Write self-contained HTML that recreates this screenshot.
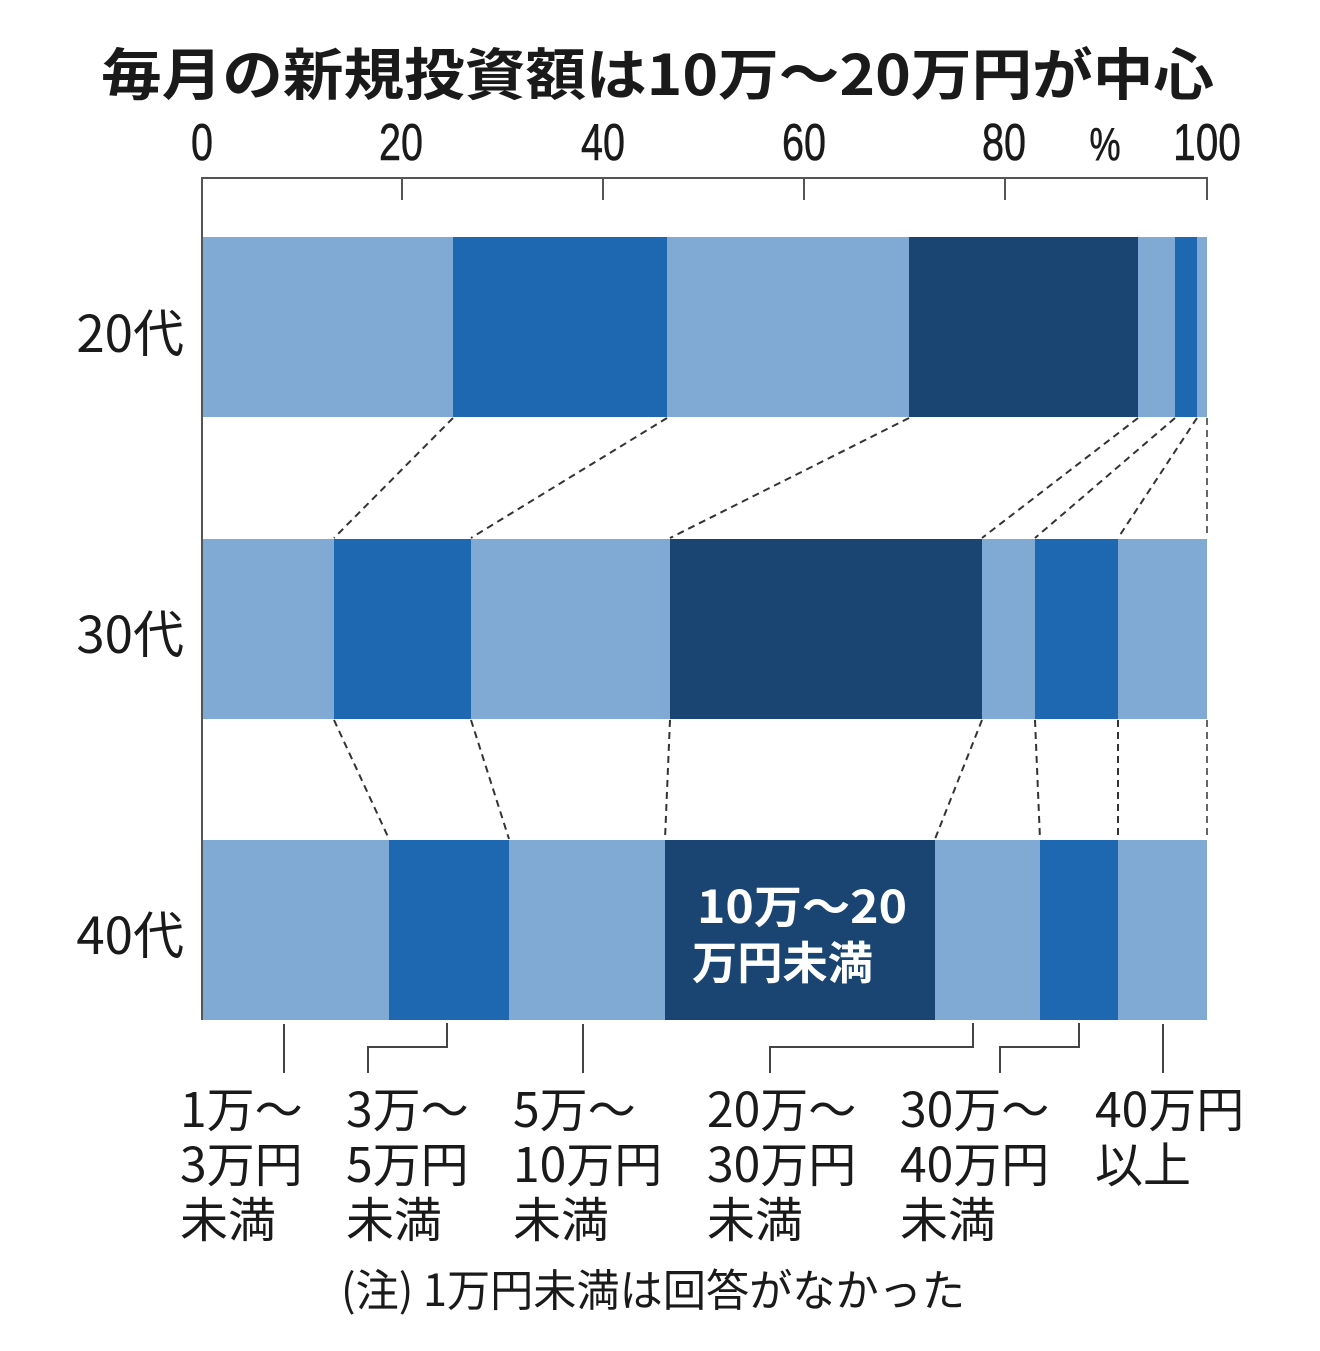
<!DOCTYPE html>
<html>
<head>
<meta charset="utf-8">
<style>
  html, body { margin: 0; padding: 0; background: #ffffff; }
  body { width: 1320px; height: 1351px; overflow: hidden; }
  svg { display: block; }
</style>
</head>
<body>
<svg width="1320" height="1351" viewBox="0 0 1320 1351" xmlns="http://www.w3.org/2000/svg">
  <rect x="0" y="0" width="1320" height="1351" fill="#ffffff"/>

  <!-- Title -->
  <text x="101" y="95" font-family="'Noto Sans CJK JP', sans-serif" font-weight="700" font-size="56" fill="#1a1a1a" textLength="1113" lengthAdjust="spacingAndGlyphs">毎月の新規投資額は10万～20万円が中心</text>

  <!-- Tick labels -->
  <g font-family="'Liberation Sans', sans-serif" font-size="52" fill="#1a1a1a" text-anchor="middle" stroke="#1a1a1a" stroke-width="0.6">
    <text transform="translate(202,160) scale(0.76,1)">0</text>
    <text transform="translate(401,160) scale(0.76,1)">20</text>
    <text transform="translate(603,160) scale(0.76,1)">40</text>
    <text transform="translate(804,160) scale(0.76,1)">60</text>
    <text transform="translate(1004,160) scale(0.76,1)">80</text>
    <text transform="translate(1105,160) scale(0.76,1)" font-size="46">%</text>
    <text transform="translate(1207,160) scale(0.78,1)">100</text>
  </g>

  <!-- Axis -->
  <g stroke="#555" stroke-width="2" fill="none">
    <line x1="202" y1="178" x2="1207" y2="178"/>
    <line x1="202" y1="177" x2="202" y2="1020"/>
    <line x1="402" y1="178" x2="402" y2="200"/>
    <line x1="603" y1="178" x2="603" y2="200"/>
    <line x1="804" y1="178" x2="804" y2="200"/>
    <line x1="1005" y1="178" x2="1005" y2="200"/>
    <line x1="1207" y1="177" x2="1207" y2="200"/>
  </g>

  <!-- Bars -->
  <g>
    <rect x="202" y="237" width="251" height="180" fill="#80aad4"/>
    <rect x="453" y="237" width="214" height="180" fill="#1e67b1"/>
    <rect x="667" y="237" width="242" height="180" fill="#80aad4"/>
    <rect x="909" y="237" width="229" height="180" fill="#1a4471"/>
    <rect x="1138" y="237" width="37" height="180" fill="#80aad4"/>
    <rect x="1175" y="237" width="22" height="180" fill="#1e67b1"/>
    <rect x="1197" y="237" width="10" height="180" fill="#80aad4"/>
  </g>
  <g>
    <rect x="202" y="539" width="132" height="180" fill="#80aad4"/>
    <rect x="334" y="539" width="137" height="180" fill="#1e67b1"/>
    <rect x="471" y="539" width="199" height="180" fill="#80aad4"/>
    <rect x="670" y="539" width="312" height="180" fill="#1a4471"/>
    <rect x="982" y="539" width="53" height="180" fill="#80aad4"/>
    <rect x="1035" y="539" width="83" height="180" fill="#1e67b1"/>
    <rect x="1118" y="539" width="89" height="180" fill="#80aad4"/>
  </g>
  <g>
    <rect x="202" y="840" width="187" height="180" fill="#80aad4"/>
    <rect x="389" y="840" width="120" height="180" fill="#1e67b1"/>
    <rect x="509" y="840" width="156" height="180" fill="#80aad4"/>
    <rect x="665" y="840" width="270" height="180" fill="#1a4471"/>
    <rect x="935" y="840" width="105" height="180" fill="#80aad4"/>
    <rect x="1040" y="840" width="78" height="180" fill="#1e67b1"/>
    <rect x="1118" y="840" width="89" height="180" fill="#80aad4"/>
  </g>
  <line x1="202" y1="237" x2="202" y2="1020" stroke="#555" stroke-width="2"/>

  <!-- Dashed connectors -->
  <g stroke="#333" stroke-width="2" stroke-dasharray="7,5" fill="none">
    <line x1="453" y1="418" x2="334" y2="538"/>
    <line x1="667" y1="418" x2="471" y2="538"/>
    <line x1="909" y1="418" x2="670" y2="538"/>
    <line x1="1138" y1="418" x2="982" y2="538"/>
    <line x1="1175" y1="418" x2="1035" y2="538"/>
    <line x1="1197" y1="418" x2="1118" y2="538"/>
    <line x1="1207" y1="418" x2="1207" y2="538" stroke="#666"/>

    <line x1="334" y1="720" x2="389" y2="839"/>
    <line x1="471" y1="720" x2="509" y2="839"/>
    <line x1="670" y1="720" x2="665" y2="839"/>
    <line x1="982" y1="720" x2="935" y2="839"/>
    <line x1="1035" y1="720" x2="1040" y2="839"/>
    <line x1="1118" y1="720" x2="1118" y2="839"/>
    <line x1="1207" y1="720" x2="1207" y2="839" stroke="#666"/>
  </g>

  <!-- Y labels -->
  <g font-family="'Noto Sans CJK JP', sans-serif" font-size="51" fill="#1a1a1a" text-anchor="end">
    <text x="184" y="352">20代</text>
    <text x="184" y="653">30代</text>
    <text x="184" y="954">40代</text>
  </g>

  <!-- Label inside bar -->
  <g font-family="'Noto Sans CJK JP', sans-serif" font-weight="700" font-size="45" fill="#ffffff">
    <text x="697" y="923" textLength="210" lengthAdjust="spacingAndGlyphs">10万～20</text>
    <text x="692" y="979" textLength="181" lengthAdjust="spacingAndGlyphs">万円未満</text>
  </g>

  <!-- Leader lines -->
  <g stroke="#444" stroke-width="2" fill="none">
    <line x1="284" y1="1024" x2="284" y2="1073"/>
    <polyline points="447,1023 447,1047 368,1047 368,1073"/>
    <line x1="583" y1="1024" x2="583" y2="1073"/>
    <polyline points="973,1023 973,1047 770,1047 770,1073"/>
    <polyline points="1079,1023 1079,1047 1000,1047 1000,1073"/>
    <line x1="1163" y1="1024" x2="1163" y2="1073"/>
  </g>

  <!-- Category labels -->
  <g font-family="'Noto Sans CJK JP', sans-serif" font-size="48" fill="#1a1a1a">
    <text x="180" y="1127">1万～</text>
    <text x="180" y="1182">3万円</text>
    <text x="180" y="1237">未満</text>

    <text x="346" y="1127">3万～</text>
    <text x="346" y="1182">5万円</text>
    <text x="346" y="1237">未満</text>

    <text x="513" y="1127">5万～</text>
    <text x="513" y="1182">10万円</text>
    <text x="513" y="1237">未満</text>

    <text x="707" y="1127">20万～</text>
    <text x="707" y="1182">30万円</text>
    <text x="707" y="1237">未満</text>

    <text x="900" y="1127">30万～</text>
    <text x="900" y="1182">40万円</text>
    <text x="900" y="1237">未満</text>

    <text x="1095" y="1127">40万円</text>
    <text x="1095" y="1182">以上</text>
  </g>

  <!-- Note -->
  <text x="341" y="1306" font-family="'Noto Sans CJK JP', sans-serif" font-size="44" fill="#1a1a1a" textLength="624" lengthAdjust="spacingAndGlyphs">(注) 1万円未満は回答がなかった</text>
</svg>
</body>
</html>
